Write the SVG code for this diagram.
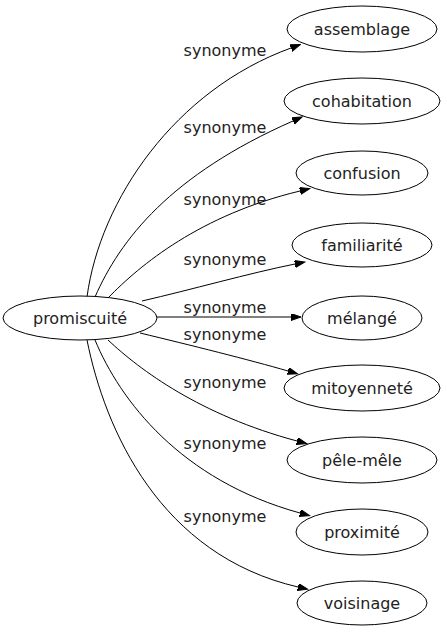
<svg xmlns="http://www.w3.org/2000/svg" width="447" height="635" viewBox="0 0 447 635">
<style>
.n ellipse{fill:#fff;stroke:#000;stroke-width:1}
.n text{font-family:"DejaVu Sans",sans-serif;font-size:16px;fill:#222;text-anchor:middle}
.e path{fill:none;stroke:#000;stroke-width:1}
.lbl{font-family:"DejaVu Sans",sans-serif;font-size:16px;fill:#222;text-anchor:middle}
</style>
<defs>
<marker id="ah" markerUnits="userSpaceOnUse" markerWidth="11" markerHeight="8" refX="0" refY="3.5" orient="auto">
<path d="M0,0 L10,3.5 L0,7 z" fill="#000" stroke="#000" stroke-width="1"/>
</marker>
</defs>
<rect width="447" height="635" fill="#fff"/>
<g id="connectors" class="e">
<path marker-end="url(#ah)" d="M87,297 C100,200 175,90 291,48"/>
<path marker-end="url(#ah)" d="M95,297 C120,240 170,175 293,121"/>
<path marker-end="url(#ah)" d="M108,298 C140,265 200,215 300,191"/>
<path marker-end="url(#ah)" d="M142,301 C190,290 250,273 295,264"/>
<path marker-end="url(#ah)" d="M157,317 L291,317"/>
<path marker-end="url(#ah)" d="M140,333 C190,345 250,360 288,371"/>
<path marker-end="url(#ah)" d="M108,340 C140,370 200,415 297,441"/>
<path marker-end="url(#ah)" d="M95,340 C120,400 180,480 300,513"/>
<path marker-end="url(#ah)" d="M87,340 C105,430 160,555 298,587"/>
<text class="lbl" x="225" y="56">synonyme</text>
<text class="lbl" x="225" y="133">synonyme</text>
<text class="lbl" x="225" y="205">synonyme</text>
<text class="lbl" x="225" y="265">synonyme</text>
<text class="lbl" x="225" y="313">synonyme</text>
<text class="lbl" x="225" y="340">synonyme</text>
<text class="lbl" x="225" y="388">synonyme</text>
<text class="lbl" x="225" y="449">synonyme</text>
<text class="lbl" x="225" y="522">synonyme</text>
</g>
<g id="promiscuite" class="n"><ellipse cx="80" cy="318" rx="77" ry="22"/><text x="80" y="324">promiscuité</text></g>
<g id="assemblage" class="n"><ellipse cx="362" cy="29" rx="75" ry="23"/><text x="362" y="35">assemblage</text></g>
<g id="cohabitation" class="n"><ellipse cx="362" cy="101" rx="78" ry="23"/><text x="362" y="107">cohabitation</text></g>
<g id="confusion" class="n"><ellipse cx="362" cy="173" rx="66" ry="22"/><text x="362" y="179">confusion</text></g>
<g id="familiarite" class="n"><ellipse cx="362" cy="245" rx="70" ry="22"/><text x="362" y="251">familiarité</text></g>
<g id="melange" class="n"><ellipse cx="362" cy="318" rx="60" ry="22"/><text x="362" y="324">mélangé</text></g>
<g id="mitoyennete" class="n"><ellipse cx="362" cy="388" rx="78" ry="23"/><text x="362" y="394">mitoyenneté</text></g>
<g id="pele-mele" class="n"><ellipse cx="362" cy="460" rx="75" ry="23"/><text x="362" y="466">pêle-mêle</text></g>
<g id="proximite" class="n"><ellipse cx="362" cy="532" rx="66" ry="23"/><text x="362" y="538">proximité</text></g>
<g id="voisinage" class="n"><ellipse cx="362" cy="603" rx="65" ry="22"/><text x="362" y="609">voisinage</text></g>
</svg>
